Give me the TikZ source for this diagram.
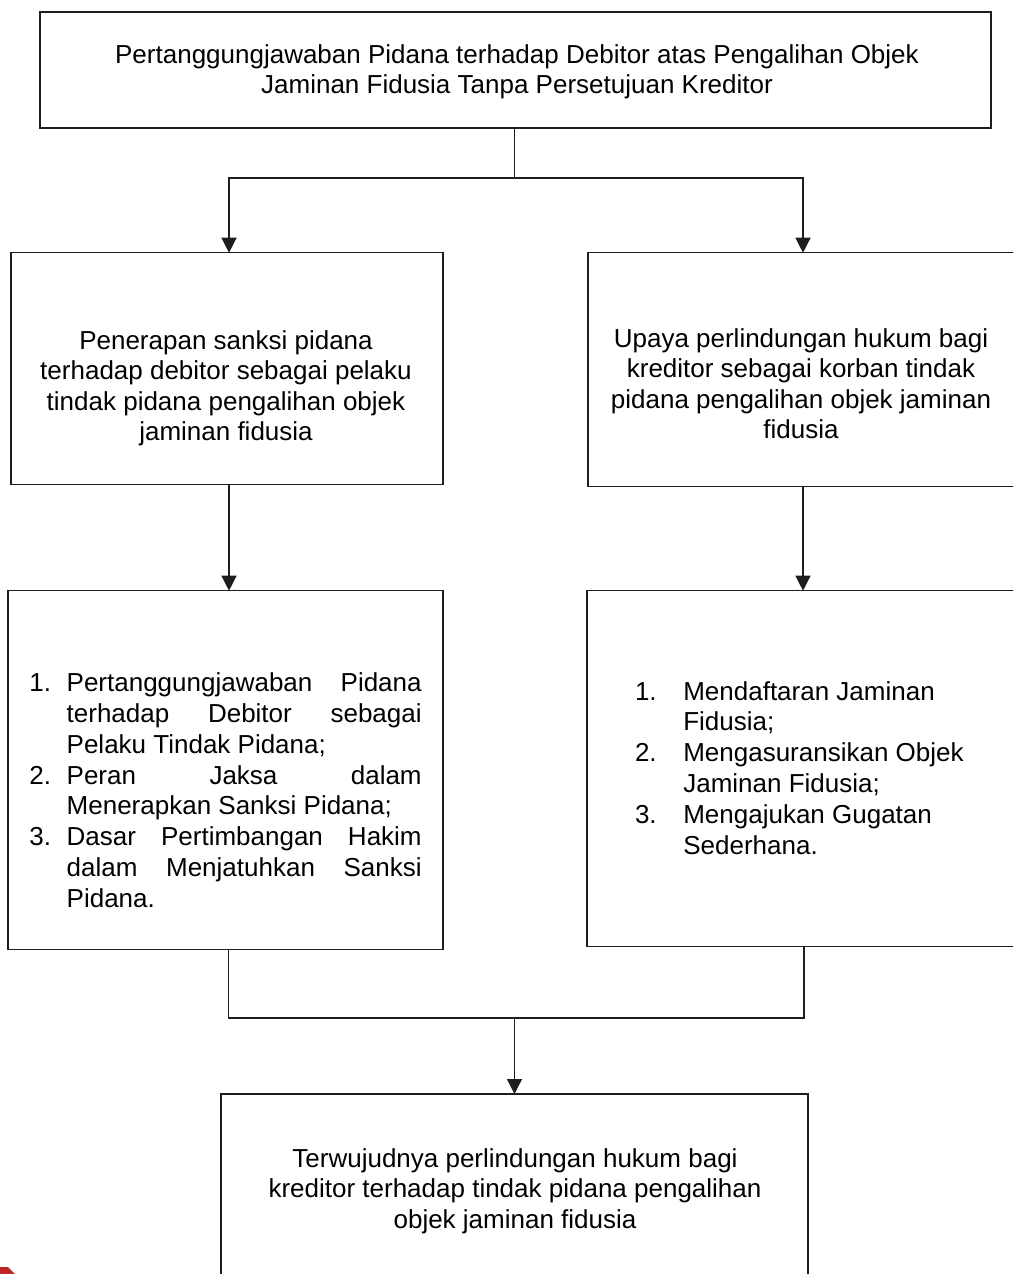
\documentclass[tikz,border=0pt]{standalone}
\usepackage{fontspec}
\setmainfont{Liberation Sans}
\usetikzlibrary{arrows.meta}
\definecolor{lineC}{RGB}{30,30,30}
\begin{document}
\begin{tikzpicture}[x=1pt,y=-1pt,
  box/.style={draw=lineC, line width=1.3pt, inner sep=0pt, outer sep=0pt, anchor=north west},
  txt/.style={inner sep=0pt, outer sep=0pt, anchor=base, font=\fontsize{26}{30.5}\selectfont},
  lst/.style={inner sep=0pt, outer sep=0pt, anchor=base west, font=\fontsize{26}{30.8}\selectfont},
  conn/.style={draw=lineC, line width=1.3pt},
  arr/.style={conn, -{Triangle[length=15pt,width=15pt]}}]
\useasboundingbox (0,0) rectangle (1013,1274);
\fill[white] (0,0) rectangle (1013,1274);
\clip (0,0) rectangle (1013,1274);

% boxes
\node[box, minimum width=951pt, minimum height=116pt] (top) at (40,12) {};
\node[box, minimum width=432pt, minimum height=232pt] (l2) at (11,252.7) {};
\node[box, minimum width=430pt, minimum height=234pt] (r2) at (588,252.7) {};
\node[box, minimum width=435pt, minimum height=359pt] (l3) at (8,590.7) {};
\node[box, minimum width=431pt, minimum height=356pt] (r3) at (587,590.7) {};
\node[box, minimum width=587pt, minimum height=220pt] (bot) at (221,1094) {};

% texts
\node[txt] (ttxt) at (517,63.3) {\begin{tabular}[t]{@{}c@{}}Pertanggungjawaban Pidana terhadap Debitor atas Pengalihan Objek\\ Jaminan Fidusia Tanpa Persetujuan Kreditor\end{tabular}};
\node[txt] (l2txt) at (226,349) {\begin{tabular}[t]{@{}c@{}}Penerapan sanksi pidana\\ terhadap debitor sebagai pelaku\\ tindak pidana pengalihan objek\\ jaminan fidusia\end{tabular}};
\node[txt] (r2txt) at (801,347) {\begin{tabular}[t]{@{}c@{}}Upaya perlindungan hukum bagi\\ kreditor sebagai korban tindak\\ pidana pengalihan objek jaminan\\ fidusia\end{tabular}};
\node[txt] (btxt) at (515,1167) {\begin{tabular}[t]{@{}c@{}}Terwujudnya perlindungan hukum bagi\\ kreditor terhadap tindak pidana pengalihan\\ objek jaminan fidusia\end{tabular}};

\node[lst] (l3txt) at (29.3,691.7) {\begin{tabular}[t]{@{}l@{}l@{}}
\makebox[37.4pt][l]{1.} & \makebox[355pt]{Pertanggungjawaban\hfill Pidana}\\
 & \makebox[355pt]{terhadap\hfill Debitor\hfill sebagai}\\
 & \makebox[355pt][l]{Pelaku Tindak Pidana;}\\
\makebox[37.4pt][l]{2.} & \makebox[355pt]{Peran\hfill Jaksa\hfill dalam}\\
 & \makebox[355pt][l]{Menerapkan Sanksi Pidana;}\\
\makebox[37.4pt][l]{3.} & \makebox[355pt]{Dasar\hfill Pertimbangan\hfill Hakim}\\
 & \makebox[355pt]{dalam\hfill Menjatuhkan\hfill Sanksi}\\
 & \makebox[355pt][l]{Pidana.}
\end{tabular}};

\node[lst] (r3txt) at (635,700) {\begin{tabular}[t]{@{}l@{}l@{}}
\makebox[48.3pt][l]{1.} & Mendaftaran Jaminan\\
 & Fidusia;\\
\makebox[48.3pt][l]{2.} & Mengasuransikan Objek\\
 & Jaminan Fidusia;\\
\makebox[48.3pt][l]{3.} & Mengajukan Gugatan\\
 & Sederhana.
\end{tabular}};

% connectors
\coordinate (split) at (514.5,178);
\draw[conn] (top.south -| split) -- (split);
\draw[arr] (split) -| ([xshift=2pt]l2.north);
\draw[arr] (split) -| (r2.north);
\draw[arr] ([xshift=2pt]l2.south) -- ([xshift=2pt]l3.north -| l2.south);
\draw[arr] (r2.south) -- (r3.north -| r2.south);
\coordinate (merge) at (514.5,1018);
\draw[conn] ([xshift=3pt]l3.south) |- (merge);
\draw[conn] ([xshift=1.5pt]r3.south) |- (merge);
\draw[arr] (merge) -- (bot.north -| merge);

% small red mark at the lower left corner
\fill[red!70!black, opacity=0.85] (0,1267) -- (8,1267) -- (15,1274) -- (0,1274) -- cycle;
\end{tikzpicture}
\end{document}
